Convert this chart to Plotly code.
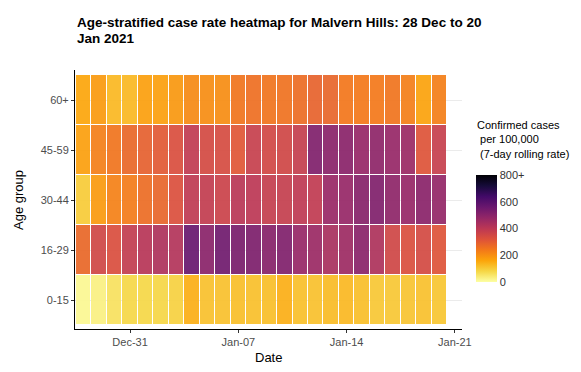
import plotly.graph_objects as go
import pandas as pd

dates = pd.date_range("2020-12-28", "2021-01-20", freq="D")
age_groups = ["0-15", "16-29", "30-44", "45-59", "60+"]

rate_0_15 = [15, 30, 60, 80, 80, 82, 90, 145, 115, 115, 120, 118,
             120, 145, 118, 115, 125, 130, 120, 105, 105, 110, 115, 108]
rate_16_29 = [275, 355, 330, 385, 410, 430, 420, 565, 500, 550, 530, 525,
              505, 520, 475, 465, 440, 460, 500, 430, 355, 330, 345, 315]
rate_30_44 = [100, 180, 225, 235, 265, 280, 325, 395, 385, 365, 405, 400,
              380, 380, 395, 390, 470, 475, 505, 520, 490, 475, 500, 480]
rate_45_59 = [170, 230, 250, 275, 290, 305, 330, 390, 345, 340, 310, 375,
              350, 355, 380, 520, 500, 500, 475, 490, 475, 465, 315, 375]
rate_60_plus = [160, 180, 130, 130, 170, 170, 185, 210, 205, 205, 250, 260,
                250, 255, 265, 285, 280, 245, 240, 240, 250, 230, 165, 230]

z = [rate_0_15, rate_16_29, rate_30_44, rate_45_59, rate_60_plus]

tick_dates = ["2020-12-31", "2021-01-07", "2021-01-14", "2021-01-21"]
tick_labels = ["Dec-31", "Jan-07", "Jan-14", "Jan-21"]
cbar_vals = [0, 200, 400, 600, 800]
cbar_text = ["0", "200", "400", "600", "800+"]

inferno = ["#000004", "#160b39", "#420a68", "#6a176e", "#932667", "#bc3754",
           "#dd513a", "#f37819", "#fca50a", "#f6d746", "#fcffa4"]
colorscale = [[i / 10, c] for i, c in enumerate(reversed(inferno))]

# page body has an 8px default margin; compensate so the figure lands
# at the reference pixel positions
OFF = 8
W, H = 581 - OFF, 372 - OFF
L, T = 75 - OFF, 70 - OFF
R = W - (462 - OFF)
B = H - (329 - OFF)
pw, ph = W - L - R, H - T - B


def px_x(x):
    return (x - OFF - L) / pw


def px_y(y):
    return (T + ph - (y - OFF)) / ph


fig = go.Figure(go.Heatmap(
    x=dates, y=age_groups, z=z,
    zmin=0, zmax=800, colorscale=colorscale,
    xgap=1, ygap=1, opacity=0.92,
    colorbar=dict(
        x=px_x(476), xanchor="left", xpad=0,
        y=px_y(228.5), yanchor="middle", ypad=0,
        len=107, lenmode="pixels", thickness=21, thicknessmode="pixels",
        outlinewidth=0, tickvals=cbar_vals, ticktext=cbar_text,
        ticks="", tickfont=dict(size=11, color="#333333"),
    ),
))

title_font = dict(size=13.5, color="#000000", family="Liberation Sans, Arial, sans-serif")

fig.update_layout(
    width=W, height=H,
    margin=dict(l=L, r=R, t=T, b=B, autoexpand=False),
    paper_bgcolor="white", plot_bgcolor="white",
    font=dict(family="Liberation Sans, Arial, sans-serif", color="#000000"),
    xaxis=dict(
        type="date", automargin=False,
        range=["2020-12-27 10:30", "2021-01-21 11:00"],
        tickvals=tick_dates, ticktext=tick_labels,
        ticks="outside", ticklen=3, tickcolor="#333333", tickwidth=1,
        tickfont=dict(size=11, color="#4d4d4d"),
        showline=True, linecolor="#000000", linewidth=1,
        showgrid=False, zeroline=False,
    ),
    yaxis=dict(
        type="category", automargin=False,
        categoryorder="array", categoryarray=age_groups,
        range=[-0.58, 4.6],
        ticks="outside", ticklen=3, tickcolor="#333333", tickwidth=1,
        tickfont=dict(size=11, color="#4d4d4d"),
        showline=True, linecolor="#000000", linewidth=1,
        showgrid=True, gridcolor="#ebebeb", gridwidth=1,
        zeroline=False,
    ),
    annotations=[
        dict(text="<b>Age-stratified case rate heatmap for Malvern Hills: 28 Dec to 20</b>",
             x=px_x(75), xref="paper", xanchor="left",
             y=px_y(23), yref="paper", yanchor="middle",
             showarrow=False, font=title_font),
        dict(text="<b>Jan 2021</b>",
             x=px_x(75), xref="paper", xanchor="left",
             y=px_y(38), yref="paper", yanchor="middle",
             showarrow=False, font=title_font),
        dict(text="Date", x=0.5, xref="paper", xanchor="center",
             y=px_y(357), yref="paper", yanchor="middle",
             showarrow=False, font=dict(size=13, color="#000000")),
        dict(text="Age group", x=px_x(18), xref="paper", xanchor="center",
             y=px_y(200), yref="paper", yanchor="middle",
             textangle=-90, showarrow=False, font=dict(size=13, color="#000000")),
        dict(text="Confirmed cases<br> per 100,000<br> (7-day rolling rate)",
             x=px_x(475), xref="paper", xanchor="left",
             y=px_y(117), yref="paper", yanchor="top",
             align="left", showarrow=False,
             font=dict(size=11, color="#000000")),
    ],
)

fig.write_html("out.html")
